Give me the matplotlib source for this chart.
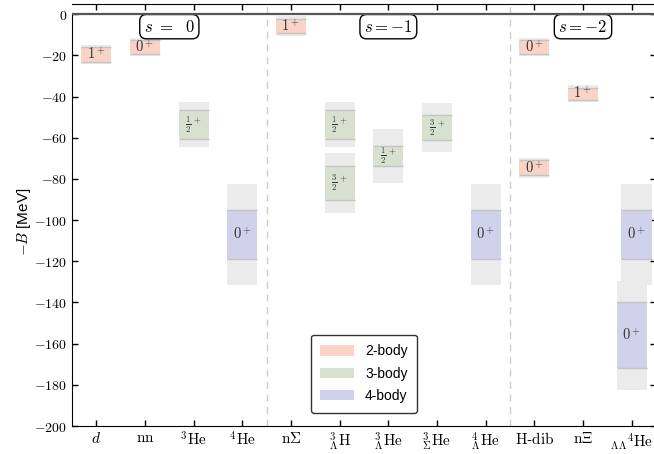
import numpy as np
import matplotlib
matplotlib.use("Agg")
import matplotlib.pyplot as plt
from matplotlib.patches import Rectangle, Patch

plt.rcParams['mathtext.fontset'] = 'cm'
plt.rcParams['font.family'] = ['Liberation Sans', 'DejaVu Sans']

# -------------------------------
# Data
# -------------------------------

categories = [r'$d$', r'$\mathrm{nn}$', r'$^3\mathrm{He}$', r'$^4\mathrm{He}$',
              r'$\mathrm{n}\Sigma$', r'$^3_\Lambda\mathrm{H}$', r'$^3_\Lambda\mathrm{He}$',
              r'$^3_\Sigma\mathrm{He}$', r'$^4_\Lambda\mathrm{He}$', r'$\mathrm{H}$-$\mathrm{dib}$',
              r'$\mathrm{n}\Xi$', r'$_{\Lambda\Lambda}{}^4\mathrm{He}$']

# one entry per state
entry_col = [0, 1, 2, 3, 4, 5, 5, 6, 7, 8, 9, 9, 10, 11, 11]
energy = [-19.5, -15.9, -53.7, -107.0, -5.5, -53.7, -82.0, -68.8, -55.0,
          -107.0, -15.9, -74.6, -38.5, -107.0, -156.0]
err_stat = [3.7, 3.2, 7.1, 12.1, 3.4, 7.1, 8.1, 5.0, 6.2, 12.1, 3.2, 3.6, 2.9, 12.1, 16.0]
err_tot = [4.8, 4.2, 10.9, 24.4, 4.9, 10.9, 14.4, 13.1, 11.7, 24.4, 4.2, 4.9, 4.2, 24.4, 26.5]
n_body = [2, 2, 3, 4, 2, 3, 3, 3, 3, 4, 2, 2, 2, 4, 4]
spin_parity = [r'1^+', r'0^+', r'\frac{1}{2}^+', r'0^+', r'1^+', r'\frac{1}{2}^+',
               r'\frac{3}{2}^+', r'\frac{1}{2}^+', r'\frac{3}{2}^+', r'0^+', r'0^+',
               r'0^+', r'1^+', r'0^+', r'0^+']

sector_labels = [r'$s\ =\ \ 0$', r'$s=-1$', r'$s=-2$']
sector_pos = [1.5, 6.0, 10.0]
sector_split = [3.5, 8.5]

body_colors = {2: '#f9d3c6', 3: '#d8e1d0', 4: '#d0d1ea'}

# -------------------------------
# Plot
# -------------------------------

fig = plt.figure(figsize=(6.54, 4.54), dpi=100)
ax = fig.add_axes([72 / 654, 28 / 454, 584 / 654, 422 / 454])

width = 0.62
nudge = {13: 0.1}

for i, col in enumerate(entry_col):
    x = col + nudge.get(i, 0.0)
    e, s, t = energy[i], err_stat[i], err_tot[i]
    ax.add_patch(Rectangle((x - width / 2, e - t), width, 2 * t,
                           facecolor='#ebebeb', edgecolor='none', zorder=1))
    ax.add_patch(Rectangle((x - width / 2, e - s), width, 2 * s,
                           facecolor=body_colors[n_body[i]], edgecolor='none', zorder=2))
    ax.hlines([e - s, e + s], x - width / 2, x + width / 2,
              color='#c4c4c4', lw=1.0, zorder=3)
    fs = 9 if 'frac' in spin_parity[i] else 10.5
    ax.text(x, e, '$' + spin_parity[i] + '$', ha='center', va='center',
            fontsize=fs, color='#333333', zorder=4)

for xs in sector_split:
    ax.axvline(xs, color='#cccccc', lw=1.0, ls=(0, (5, 4)), zorder=0)

for lab, xp in zip(sector_labels, sector_pos):
    ax.text(xp, -6, lab, ha='center', va='center', fontsize=12,
            bbox=dict(boxstyle='round,pad=0.25,rounding_size=0.4',
                      facecolor='white', edgecolor='black', lw=1.0))

ax.axhline(0, color='#555555', lw=1.6, zorder=5)

ax.set_xlim(-0.5, 11.5)
ax.set_ylim(-200, 5)
ax.set_xticks(range(len(categories)))
ax.set_xticklabels(categories, fontsize=11)
yt = np.arange(-200, 1, 20)
ax.set_yticks(yt)
ax.set_yticklabels([r'$%d$' % v for v in yt], fontsize=10)
ax.spines['left'].set_bounds(-200, 0)
ax.tick_params(direction='in', top=True, right=True, length=4, width=1)
ax.set_ylabel(r'$-B$ [MeV]', fontsize=11)
ax.yaxis.set_label_coords(-0.066, 0.483)

handles = [Patch(facecolor=body_colors[k], edgecolor='none', label='%d-body' % k)
           for k in (2, 3, 4)]
leg = ax.legend(handles=handles, loc='lower center', bbox_to_anchor=(0.5, 0.015),
                fontsize=10, frameon=True, fancybox=True, shadow=False,
                handlelength=2.4, handleheight=0.8, borderpad=0.7, labelspacing=0.6)
leg.get_frame().set_edgecolor('black')
leg.get_frame().set_linewidth(1.0)

fig.savefig('out.png', dpi=100)
